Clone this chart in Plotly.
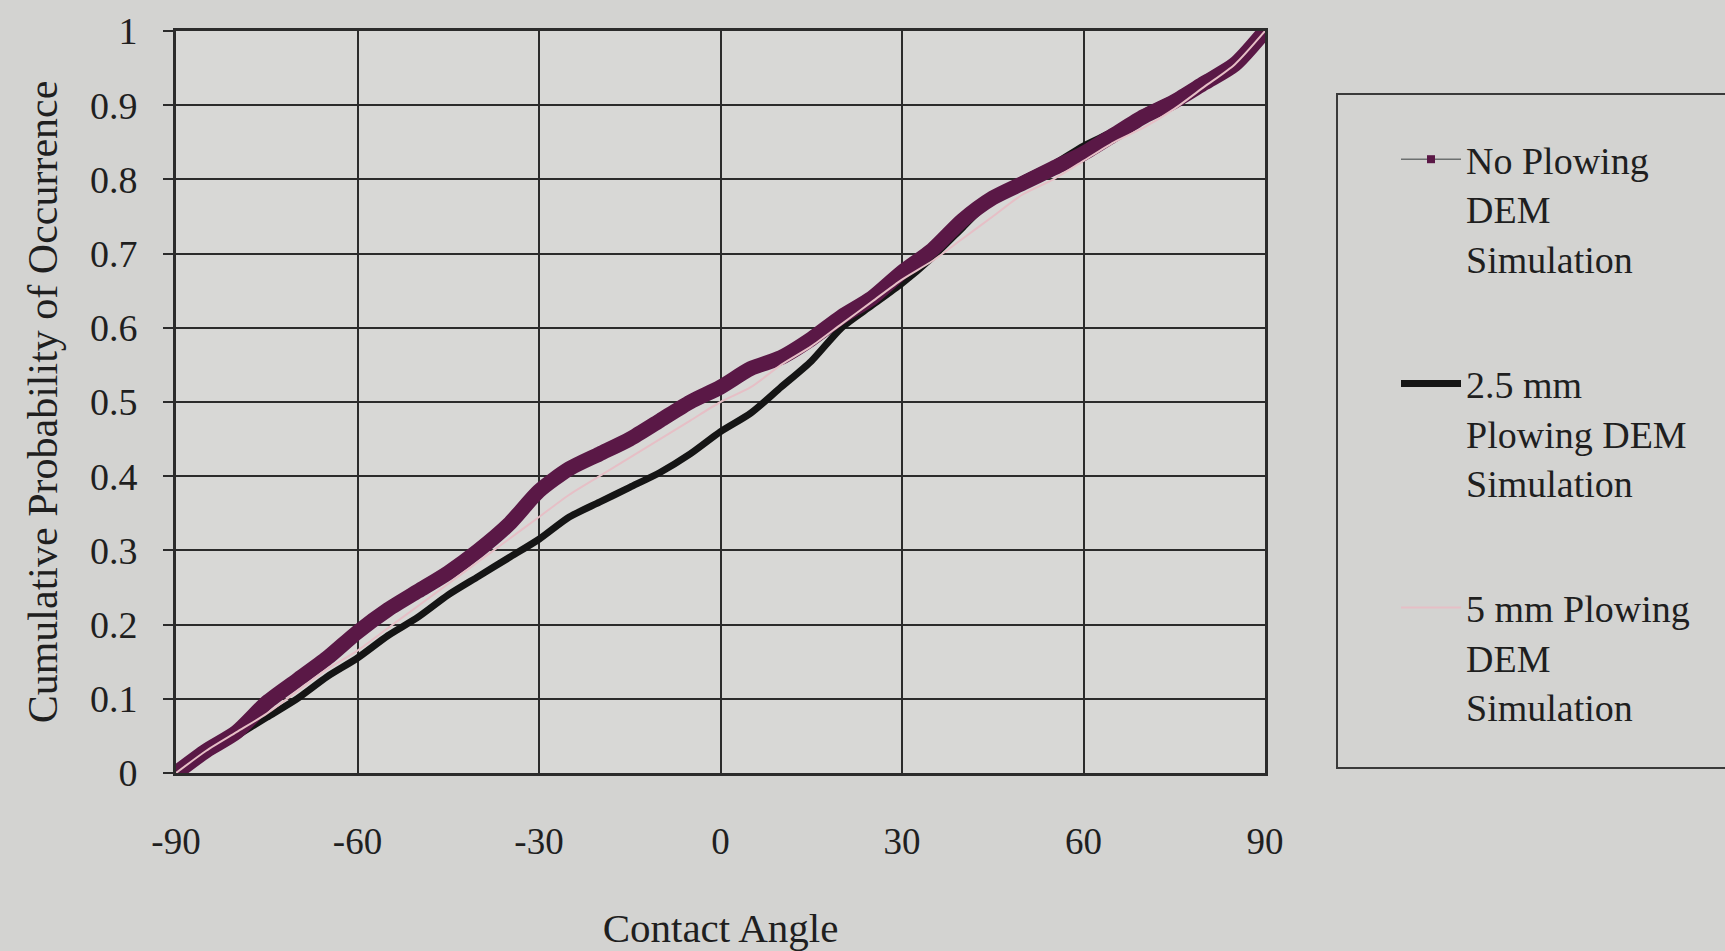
import plotly.graph_objects as go

# Contact angle (degrees)
angle = [-90, -85, -80, -75, -70, -65, -60, -55, -50, -45, -40, -35, -30, -25, -20, -15, -10, -5,
         0, 5, 10, 15, 20, 25, 30, 35, 40, 45, 50, 55, 60, 65, 70, 75, 80, 85, 90]

no_plowing = [0.0, 0.03, 0.055, 0.095, 0.125, 0.155, 0.19, 0.22, 0.245, 0.27, 0.30, 0.335, 0.38,
              0.41, 0.43, 0.45, 0.475, 0.50, 0.52, 0.545, 0.56, 0.585, 0.615, 0.64, 0.675, 0.705,
              0.745, 0.775, 0.795, 0.815, 0.835, 0.86, 0.885, 0.905, 0.93, 0.955, 1.0]

plow_2_5mm = [0.0, 0.025, 0.05, 0.075, 0.10, 0.13, 0.155, 0.185, 0.21, 0.24, 0.265, 0.29, 0.315,
              0.345, 0.365, 0.385, 0.405, 0.43, 0.46, 0.485, 0.52, 0.555, 0.60, 0.63, 0.66, 0.695,
              0.735, 0.775, 0.80, 0.82, 0.845, 0.865, 0.89, 0.91, 0.935, 0.96, 1.0]

plow_5mm = [0.0, 0.03, 0.055, 0.08, 0.11, 0.14, 0.165, 0.195, 0.225, 0.255, 0.285, 0.315, 0.345,
            0.375, 0.40, 0.425, 0.45, 0.475, 0.50, 0.52, 0.55, 0.575, 0.605, 0.635, 0.665, 0.69,
            0.72, 0.75, 0.78, 0.80, 0.825, 0.85, 0.87, 0.895, 0.925, 0.955, 1.0]

x_ticks = [-90, -60, -30, 0, 30, 60, 90]
y_ticks = [0, 0.1, 0.2, 0.3, 0.4, 0.5, 0.6, 0.7, 0.8, 0.9, 1]

names = ["No Plowing<br>DEM<br>Simulation",
         "2.5 mm<br>Plowing DEM<br>Simulation",
         "5 mm Plowing<br>DEM<br>Simulation"]

PURPLE = "#5a1846"
BLACK = "#151515"
PINK = "#e6bfc6"
FONT = "Liberation Serif"
TXT = "#1f1f1f"
SMOOTH = dict(shape="spline", smoothing=0.7)

fig = go.Figure()

# 2.5 mm plowing (thick black)
fig.add_trace(go.Scatter(x=angle, y=plow_2_5mm, mode="lines", name=names[1],
                         line=dict(color=BLACK, width=7, **SMOOTH), legendgroup="b", legendrank=2))
# No plowing: legend entry (thin line + square marker)
fig.add_trace(go.Scatter(x=angle, y=no_plowing, mode="lines+markers", name=names[0],
                         line=dict(color="#6d7070", width=1.5, **SMOOTH),
                         marker=dict(symbol="square", size=8, color=PURPLE),
                         legendgroup="a", legendrank=1))
# No plowing: dense marker band as drawn
fig.add_trace(go.Scatter(x=angle, y=no_plowing, mode="lines", showlegend=False,
                         line=dict(color=PURPLE, width=15, **SMOOTH), hoverinfo="skip"))
# 5 mm plowing (thin pink)
fig.add_trace(go.Scatter(x=angle, y=plow_5mm, mode="lines", name=names[2],
                         line=dict(color=PINK, width=2, **SMOOTH), legendgroup="c", legendrank=3))

W, H = 1725, 951
L, R, T, B = 176, 1265, 31, 773

fig.update_layout(
    width=W, height=H,
    margin=dict(l=L, r=W - R, t=T, b=H - B, autoexpand=False),
    paper_bgcolor="#d3d3d1",
    plot_bgcolor="#d8d8d6",
    font=dict(family=FONT, color=TXT, size=38),
    showlegend=True,
    legend=dict(
        x=(1396 - L) / (R - L), xanchor="left",
        y=(B - 128) / (B - T), yanchor="top",
        bgcolor="rgba(0,0,0,0)", borderwidth=0,
        font=dict(family=FONT, size=38, color=TXT),
        tracegroupgap=73, valign="top", itemwidth=60,
    ),
    shapes=[dict(type="rect", xref="paper", yref="paper",
                 x0=(1337 - L) / (R - L), x1=(1745 - L) / (R - L),
                 y0=(B - 768) / (B - T), y1=(B - 94) / (B - T),
                 line=dict(color="#3a3a3a", width=2), fillcolor="rgba(0,0,0,0)", layer="below")],
)

fig.update_xaxes(
    range=[-90, 90], tickvals=x_ticks, ticktext=[str(v) for v in x_ticks],
    showgrid=True, gridcolor="#2b2b2b", gridwidth=2,
    showline=True, linecolor="#2b2b2b", linewidth=3, mirror=True,
    zeroline=False, ticks="", ticklabelstandoff=34,
    tickfont=dict(family=FONT, size=37, color=TXT),
    title=dict(text="Contact Angle", font=dict(family=FONT, size=41, color=TXT), standoff=54),
    automargin=False,
)
fig.update_yaxes(
    range=[0, 1], tickvals=y_ticks, ticktext=[("%g" % v) for v in y_ticks],
    showgrid=True, gridcolor="#2b2b2b", gridwidth=2,
    showline=True, linecolor="#2b2b2b", linewidth=3, mirror=True,
    zeroline=False, ticks="outside", ticklen=10, tickwidth=2, tickcolor="#2b2b2b",
    ticklabelstandoff=18,
    tickfont=dict(family=FONT, size=38, color=TXT),
    title=dict(text="Cumulative Probability of Occurrence",
               font=dict(family=FONT, size=42, color=TXT), standoff=20),
    automargin=False,
)

fig.write_html("out.html", config={"displayModeBar": False},
               post_script="document.body.style.margin='0';document.body.style.padding='0';")
